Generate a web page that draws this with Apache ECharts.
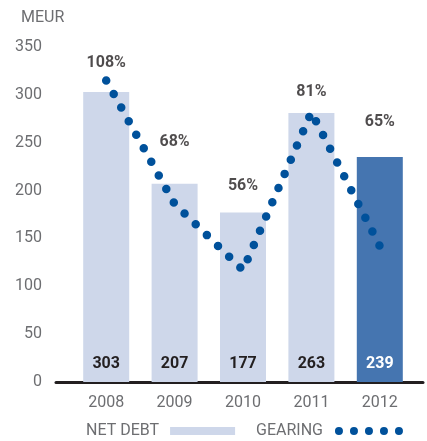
<!DOCTYPE html>
<html>
<head>
<meta charset="utf-8">
<script src="https://cdn.jsdelivr.net/npm/echarts@6/dist/echarts.min.js"></script>
<style>
  html, body { margin: 0; padding: 0; background: #fff; }
  #chart { width: 427px; height: 441px; }
</style>
</head>
<body>
<div id="chart"></div>
<script>
const years = ["2008", "2009", "2010", "2011", "2012"];
// bar heights as drawn (MEUR) and the printed labels
const netDebt = [303, 207, 177, 281, 235];
const netDebtLabels = ["303", "207", "177", "263", "239"];
// gearing dots drawn on the MEUR scale, percent labels placed separately
const gearingLine = [315, 186, 117, 282, 142];
const gearingLabelPos = [333, 251, 205, 303, 272];
const gearingLabels = ["108%", "68%", "56%", "81%", "65%"];
const highlightIndex = 4;

const LIGHT = "#ced7ea";
const DARK = "#4575b0";
const DOT = "#00519b";
const GREY = "#6d6e71";
const FONT = "Roboto, 'Liberation Sans', sans-serif";

const chart = echarts.init(document.getElementById("chart"));

const dotsIcon =
  "path://" +
  [4, 19, 34, 49, 64]
    .map((cx) => `M${cx - 4},4a4,4 0 1,0 8,0a4,4 0 1,0 -8,0Z`)
    .join("") +
  "M0,0L0,0M68,8L68,8";

const option = {
  animation: false,
  title: {
    text: "MEUR",
    left: 16,
    top: 5,
    textStyle: { fontFamily: FONT, fontSize: 16, fontWeight: "normal", color: GREY },
  },
  grid: [
    { left: 72, right: 13, top: 47, bottom: 59 },
    { left: 56, right: 4, top: 47, bottom: 59 },
  ],
  xAxis: [
    {
      type: "category",
      data: years,
      gridIndex: 0,
      axisLine: { show: false },
      axisTick: { show: false },
      axisLabel: { margin: 13, fontFamily: FONT, fontSize: 16, color: GREY },
    },
    {
      type: "category",
      data: [""],
      gridIndex: 1,
      axisLine: { show: true, lineStyle: { color: "#231f20", width: 3 } },
      axisTick: { show: false },
      axisLabel: { show: false },
    },
  ],
  yAxis: [
    {
      type: "value",
      gridIndex: 0,
      min: 0,
      max: 350,
      interval: 50,
      splitLine: { show: false },
      axisLine: { show: false },
      axisTick: { show: false },
      axisLabel: { margin: 30, fontFamily: FONT, fontSize: 16, color: GREY },
    },
    { type: "value", gridIndex: 1, show: false },
  ],
  legend: [
    {
      data: ["NET DEBT"],
      left: 86,
      top: 423,
      padding: 0,
      align: "right",
      icon: "rect",
      itemWidth: 65,
      itemHeight: 8,
      textStyle: { fontFamily: FONT, fontSize: 16, color: GREY, padding: [0, 6, 0, 0] },
    },
    {
      data: [{ name: "GEARING", icon: dotsIcon }],
      left: 256,
      top: 423,
      padding: 0,
      align: "right",
      itemWidth: 68,
      itemHeight: 8,
      itemStyle: { borderWidth: 0 },
      textStyle: { fontFamily: FONT, fontSize: 16, color: GREY, padding: [0, 7, 0, 0] },
    },
  ],
  series: [
    {
      name: "NET DEBT",
      type: "bar",
      barWidth: 46,
      itemStyle: { color: LIGHT },
      data: netDebt.map((v, i) => ({
        value: v,
        itemStyle: { color: i === highlightIndex ? DARK : LIGHT },
        label: { color: i === highlightIndex ? "#fff" : "#231f20" },
      })),
      label: {
        show: true,
        position: "insideBottom",
        distance: 10,
        fontFamily: FONT,
        fontSize: 16,
        fontWeight: "bold",
        formatter: (p) => netDebtLabels[p.dataIndex],
      },
      z: 1,
    },
    {
      name: "GEARING",
      type: "line",
      data: gearingLine,
      symbol: "none",
      itemStyle: { color: DOT },
      lineStyle: { color: DOT, width: 8.5, type: [0, 15.5], cap: "round", join: "round" },
      z: 3,
    },
    {
      name: "gearing labels",
      type: "scatter",
      data: gearingLabelPos,
      symbolSize: 0,
      silent: true,
      label: {
        show: true,
        position: "inside",
        fontFamily: FONT,
        fontSize: 16,
        fontWeight: "bold",
        color: "#231f20",
        formatter: (p) => gearingLabels[p.dataIndex],
      },
      z: 4,
    },
  ],
};

chart.setOption(option);

window.addEventListener("resize", () => {
  chart.resize();
});
</script>
</body>
</html>
